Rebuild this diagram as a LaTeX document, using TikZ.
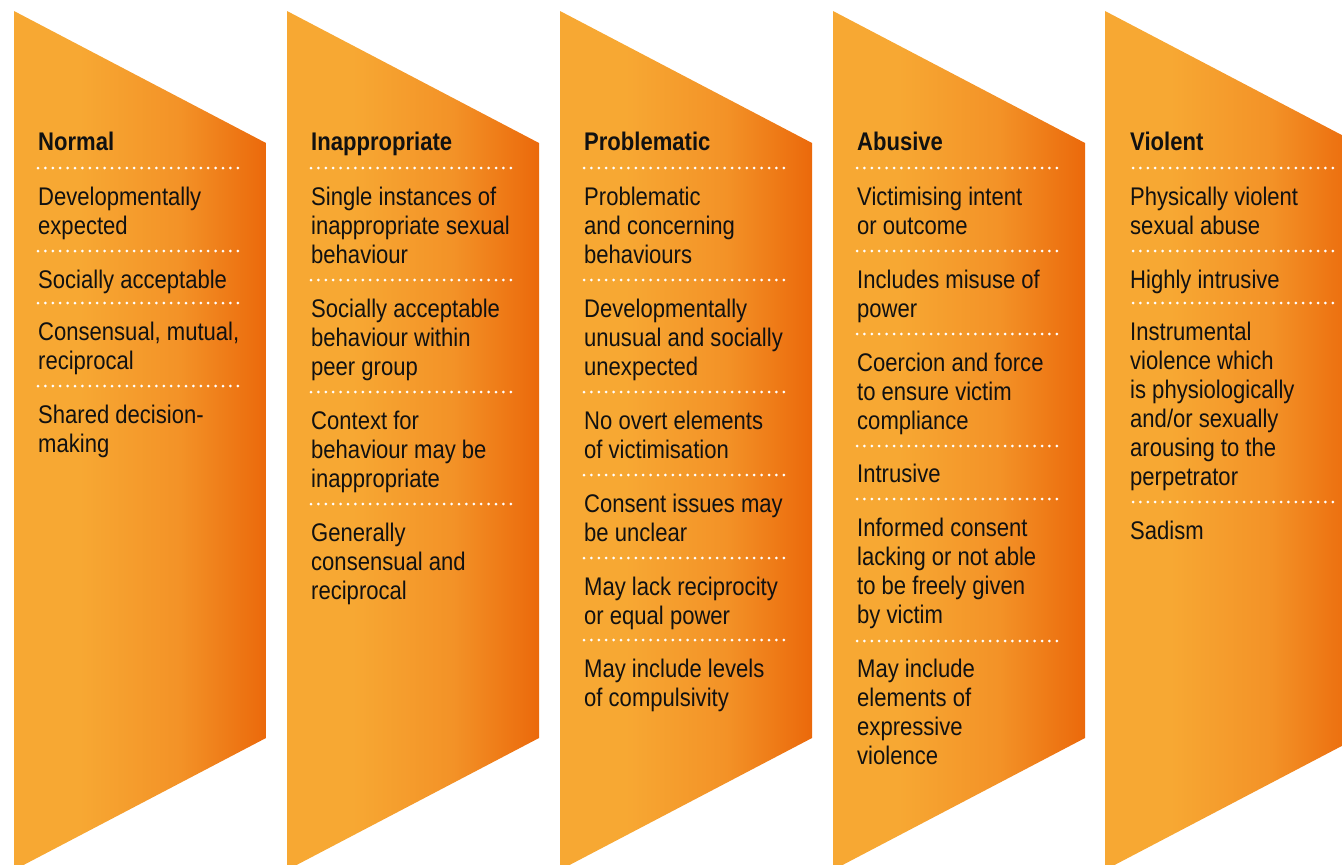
\documentclass[tikz,border=0pt]{standalone}
\usepackage{fontspec}
\setmainfont[Scale=1.0,FakeStretch=0.865]{Liberation Sans}
\definecolor{oLight}{HTML}{F7A833}
\definecolor{oMid}{HTML}{F39227}
\definecolor{oDark}{HTML}{EB690B}
\definecolor{ink}{HTML}{111111}
\pgfdeclarehorizontalshading{colshade}{100bp}{color(0bp)=(oLight); color(38bp)=(oLight); color(58bp)=(oMid); color(75bp)=(oDark); color(100bp)=(oDark)}
\tikzset{
  colshape/.style={shading=colshade, draw=none},
  coltitle/.style={anchor=base west, inner sep=0pt, text=ink, font=\fontsize{25.5}{29}\selectfont\bfseries},
  item/.style={anchor=base west, inner sep=0pt, text=ink, font=\fontsize{25.5}{29}\selectfont},
  dotline/.style={draw=white, line width=3pt, line cap=round, dash pattern=on 0pt off 7.4pt},
}
\newcommand{\itm}[1]{\parbox[t]{240pt}{\raggedright #1}}
\begin{document}
\begin{tikzpicture}[x=1pt,y=-1pt]
\useasboundingbox (0,0) rectangle (1342,865);
\clip (0,0) rectangle (1342,865);
% column shapes
\foreach \L [count=\i] in {14,287,560,833,1105}{
  \path[colshape] (\L,11) -- (\L+252,143) -- (\L+252,738) -- (\L,870) -- cycle;
}
% ---------- Column 1 ----------
\node[coltitle] (t1) at (38,150) {Normal};
\foreach \y in {168,251,303,386}{ \draw[dotline] (38,\y) -- (245,\y); }
\node[item] (a1) at (38,205) {\itm{Developmentally\\expected}};
\node[item] (a2) at (38,288) {\itm{Socially acceptable}};
\node[item] (a3) at (38,340) {\itm{Consensual, mutual,\\reciprocal}};
\node[item] (a4) at (38,423) {\itm{Shared decision-\\making}};
% ---------- Column 2 ----------
\node[coltitle] (t2) at (311,150) {Inappropriate};
\foreach \y in {168,280,392,504}{ \draw[dotline] (311,\y) -- (518,\y); }
\node[item] (b1) at (311,205) {\itm{Single instances of\\inappropriate sexual\\behaviour}};
\node[item] (b2) at (311,317) {\itm{Socially acceptable\\behaviour within\\peer group}};
\node[item] (b3) at (311,429) {\itm{Context for\\behaviour may be\\inappropriate}};
\node[item] (b4) at (311,541) {\itm{Generally\\consensual and\\reciprocal}};
% ---------- Column 3 ----------
\node[coltitle] (t3) at (584,150) {Problematic};
\foreach \y in {168,280,392,475,558,640}{ \draw[dotline] (584,\y) -- (791,\y); }
\node[item] (c1) at (584,205) {\itm{Problematic\\and concerning\\behaviours}};
\node[item] (c2) at (584,317) {\itm{Developmentally\\unusual and socially\\unexpected}};
\node[item] (c3) at (584,429) {\itm{No overt elements\\of victimisation}};
\node[item] (c4) at (584,512) {\itm{Consent issues may\\be unclear}};
\node[item] (c5) at (584,595) {\itm{May lack reciprocity\\or equal power}};
\node[item] (c6) at (584,677) {\itm{May include levels\\of compulsivity}};
% ---------- Column 4 ----------
\node[coltitle] (t4) at (857,150) {Abusive};
\foreach \y in {168,251,334,446,499,641}{ \draw[dotline] (857,\y) -- (1064,\y); }
\node[item] (d1) at (857,205) {\itm{Victimising intent\\or outcome}};
\node[item] (d2) at (857,288) {\itm{Includes misuse of\\power}};
\node[item] (d3) at (857,371) {\itm{Coercion and force\\to ensure victim\\compliance}};
\node[item] (d4) at (857,482) {\itm{Intrusive}};
\node[item] (d5) at (857,536) {\itm{Informed consent\\lacking or not able\\to be freely given\\by victim}};
\node[item] (d6) at (857,677) {\itm{May include\\elements of\\expressive\\violence}};
% ---------- Column 5 ----------
\node[coltitle] (t5) at (1130,150) {Violent};
\foreach \y in {168,251,303,502}{ \draw[dotline] (1133,\y) -- (1340,\y); }
\node[item] (e1) at (1130,205) {\itm{Physically violent\\sexual abuse}};
\node[item] (e2) at (1130,288) {\itm{Highly intrusive}};
\node[item] (e3) at (1130,340) {\itm{Instrumental\\violence which\\is physiologically\\and/or sexually\\arousing to the\\perpetrator}};
\node[item] (e4) at (1130,539) {\itm{Sadism}};
\end{tikzpicture}
\end{document}
